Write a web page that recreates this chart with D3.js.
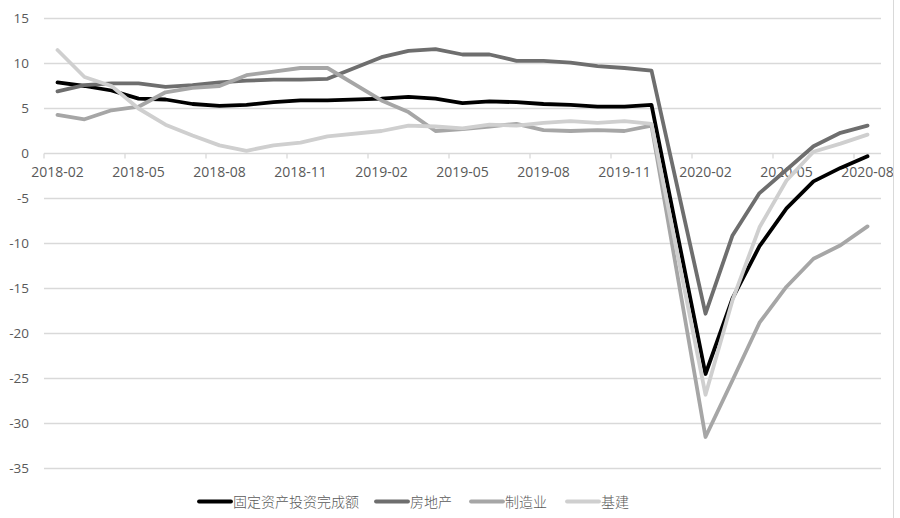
<!DOCTYPE html>
<html><head><meta charset="utf-8">
<script src="https://cdn.jsdelivr.net/npm/d3@7"></script>
<style>
html,body{margin:0;padding:0;background:#fff;}
svg{display:block;}
</style>
</head><body>
<svg id="c" width="900" height="518"></svg>
<script>
const months = ["2018-02","2018-03","2018-04","2018-05","2018-06","2018-07","2018-08","2018-09","2018-10","2018-11","2018-12","2019-01",
"2019-02","2019-03","2019-04","2019-05","2019-06","2019-07","2019-08","2019-09","2019-10","2019-11","2019-12","2020-01",
"2020-02","2020-03","2020-04","2020-05","2020-06","2020-07","2020-08"];
const tickLabels = ["2018-02","2018-05","2018-08","2018-11","2019-02","2019-05","2019-08","2019-11","2020-02","2020-05","2020-08"];
const yTicks = [15,10,5,0,-5,-10,-15,-20,-25,-30,-35];
const seriesNames = ["固定资产投资完成额","房地产","制造业","基建"];
const fai = [7.9,7.5,7.0,6.1,6.0,5.5,5.3,5.4,5.7,5.9,5.9,null,6.1,6.3,6.1,5.6,5.8,5.7,5.5,5.4,5.2,5.2,5.4,null,-24.5,-16.1,-10.3,-6.1,-3.1,-1.6,-0.3];
const realEstate = [6.9,7.6,7.8,7.8,7.4,7.6,7.9,8.1,8.2,8.2,8.3,null,10.7,11.4,11.6,11.0,11.0,10.3,10.3,10.1,9.7,9.5,9.2,null,-17.8,-9.1,-4.4,-1.8,0.8,2.3,3.1];
const manufacturing = [4.3,3.8,4.8,5.2,6.8,7.3,7.5,8.7,9.1,9.5,9.5,null,5.9,4.6,2.5,2.7,3.0,3.3,2.6,2.5,2.6,2.5,3.1,null,-31.5,-25.2,-18.8,-14.8,-11.7,-10.2,-8.1];
const infrastructure = [11.5,8.5,7.5,5.0,3.2,2.0,0.9,0.3,0.9,1.2,1.9,null,2.5,3.1,3.0,2.8,3.2,3.1,3.4,3.6,3.4,3.6,3.3,null,-26.8,-16.3,-8.2,-3.0,0.2,1.1,2.1];
const seriesValues = [fai, realEstate, manufacturing, infrastructure];
const seriesColors = ["#000000","#6e6e6e","#a6a6a6","#cfcfcf"];

const svg = d3.select("#c");
const x = d3.scaleBand().domain(months).range([44, 881]).padding(0);
const y = d3.scaleLinear().domain([-35, 15]).range([468.5, 18.5]);
const cx = m => x(m) + x.bandwidth()/2;

// gridlines
svg.append("g").selectAll("line").data(yTicks).join("line")
  .attr("x1", 44).attr("x2", 881)
  .attr("y1", d => y(d)).attr("y2", d => y(d))
  .attr("stroke", "#d9d9d9").attr("stroke-width", 1.3);

// y axis labels
const yAxis = svg.append("g").attr("transform", "translate(29,0)")
  .call(d3.axisLeft(y).tickValues(yTicks).tickSize(0).tickPadding(0).tickFormat(d => String(d)));
yAxis.select(".domain").remove();
yAxis.selectAll("text").attr("font-family", "Open Sans, sans-serif").attr("font-size", 13.5).attr("fill", "#595959");

// x axis tick marks at category boundaries
const tickMonths = months.filter((m, i) => i % 3 === 0);
svg.append("g").selectAll("line").data(tickMonths).join("line")
  .attr("x1", d => x(d)).attr("x2", d => x(d))
  .attr("y1", y(0)).attr("y2", y(0) + 5)
  .attr("stroke", "#d9d9d9").attr("stroke-width", 1.3);

// x axis labels
const xAxis = svg.append("g").attr("transform", `translate(0,${y(0)})`)
  .call(d3.axisBottom(x).tickValues(tickLabels).tickSize(0).tickPadding(14));
xAxis.select(".domain").remove();
xAxis.selectAll("text").attr("font-family", "Open Sans, sans-serif").attr("font-size", 14).attr("fill", "#595959");

// lines
const line = d3.line().x(d => cx(d.m)).y(d => y(d.v)).curve(d3.curveLinear);
seriesValues.forEach((vals, k) => {
  const pts = months.map((m, i) => ({m, v: vals[i]})).filter(d => d.v !== null);
  svg.append("path").datum(pts)
    .attr("d", line)
    .attr("fill", "none")
    .attr("stroke", seriesColors[k])
    .attr("stroke-width", 3.8)
    .attr("stroke-linejoin", "round")
    .attr("stroke-linecap", "round");
});

// right frame edge
svg.append("line").attr("x1", 893.5).attr("x2", 893.5).attr("y1", 0).attr("y2", 518)
  .attr("stroke", "#d9d9d9").attr("stroke-width", 1);

// legend
const legendX = [199, 376, 471, 567];
const lg = svg.append("g");
seriesNames.forEach((name, k) => {
  const g = lg.append("g").attr("transform", `translate(${legendX[k]},501.5)`);
  g.append("line").attr("x1", 0).attr("x2", 32).attr("y1", 0).attr("y2", 0)
    .attr("stroke", seriesColors[k]).attr("stroke-width", 3.8).attr("stroke-linecap", "round");
  g.append("text").attr("x", 34).attr("y", 0).attr("dy", "0.36em")
    .attr("font-family", "Noto Sans CJK SC, sans-serif").attr("font-size", 14).attr("font-weight", 300)
    .attr("fill", "#595959").text(name);
});
</script>
</body></html>
